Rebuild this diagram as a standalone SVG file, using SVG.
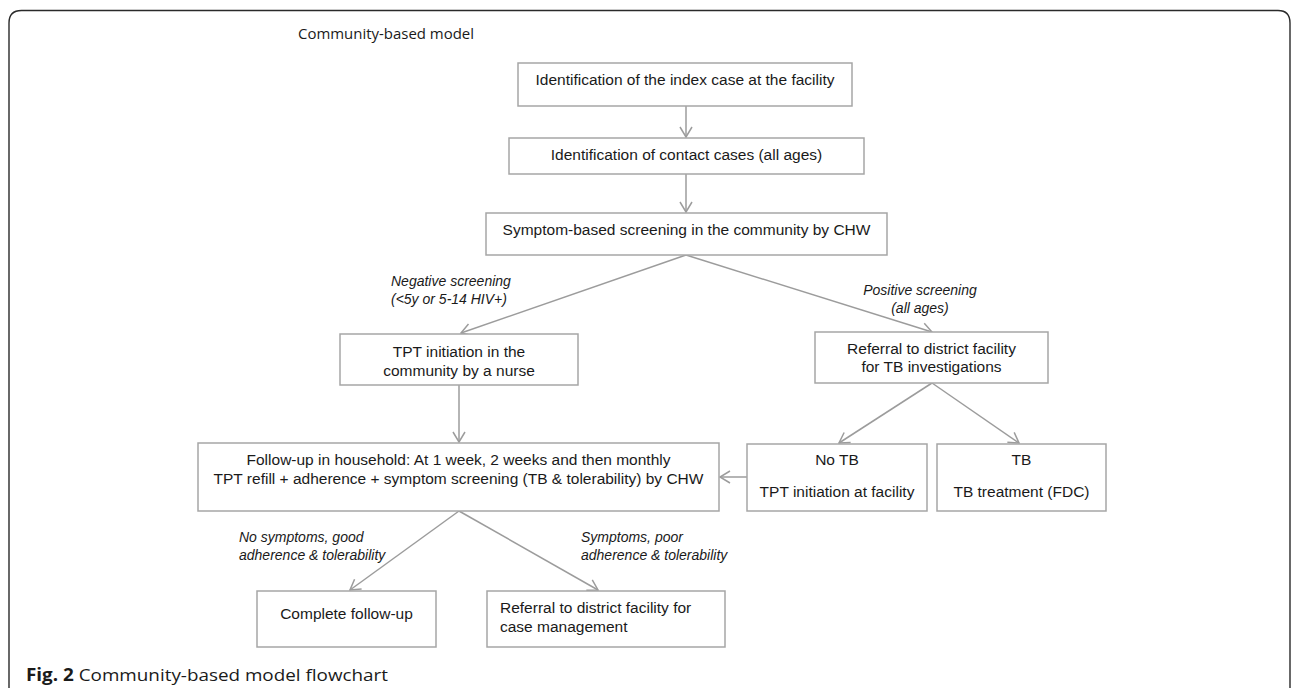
<svg xmlns="http://www.w3.org/2000/svg" width="1291" height="688" viewBox="0 0 1291 688">
<defs>
<marker id="arr" markerUnits="userSpaceOnUse" markerWidth="14" markerHeight="14" viewBox="0 0 14 14" refX="11" refY="7" orient="auto">
<path d="M1,1 L11,7 L1,13" fill="none" stroke="#9c9c9c" stroke-width="1.5"/>
</marker>
<style>
.box{fill:#fff;stroke:#a6a6a6;stroke-width:1.5}
.t{font-family:"Liberation Sans",Arial,sans-serif;font-size:15.5px;fill:#1a1a1a}
.c{text-anchor:middle}
.lab{font-family:"Liberation Sans",Arial,sans-serif;font-size:14px;font-style:italic;fill:#1a1a1a}
.con{fill:none;stroke:#9c9c9c;stroke-width:1.5;marker-end:url(#arr)}
</style>
</defs>
<rect width="1291" height="688" fill="#fff"/>
<path d="M9,688 L9,23 Q9,10.5 21.5,10.5 L1278,10.5 Q1290,10.5 1290,23 L1290,688" fill="none" stroke="#2a2a2a" stroke-width="1.4"/>
<text x="298" y="38.5" font-family="'Open Sans','Noto Sans',sans-serif" font-size="15" fill="#1a1a1a" textLength="176" lengthAdjust="spacingAndGlyphs">Community-based model</text>

<g id="connectors">
<line class="con" x1="686" y1="106" x2="686" y2="137"/>
<line class="con" x1="686" y1="174" x2="686" y2="212"/>
<line class="con" x1="686" y1="255" x2="461" y2="333"/>
<line class="con" x1="686" y1="255" x2="932" y2="332"/>
<line class="con" x1="459" y1="385" x2="459" y2="442"/>
<line class="con" x1="932" y1="383" x2="839" y2="443"/>
<line class="con" x1="932" y1="383" x2="1019" y2="443"/>
<line class="con" x1="747" y1="477" x2="720" y2="477"/>
<line class="con" x1="459" y1="511" x2="350" y2="590"/>
<line class="con" x1="459" y1="511" x2="598" y2="590"/>
<text class="lab" x="391" y="286">Negative screening</text>
<text class="lab" x="391" y="304">(&lt;5y or 5-14 HIV+)</text>
<text class="lab c" x="920" y="295">Positive screening</text>
<text class="lab c" x="920" y="313">(all ages)</text>
<text class="lab" x="239" y="542">No symptoms, good</text>
<text class="lab" x="239" y="560">adherence &amp; tolerability</text>
<text class="lab" x="581" y="542">Symptoms, poor</text>
<text class="lab" x="581" y="560">adherence &amp; tolerability</text>
</g>

<g id="n1"><rect class="box" x="518" y="63" width="334" height="43"/><text class="t c" x="685" y="84.5">Identification of the index case at the facility</text></g>
<g id="n2"><rect class="box" x="509" y="138" width="355" height="36"/><text class="t c" x="686.5" y="159.5">Identification of contact cases (all ages)</text></g>
<g id="n3"><rect class="box" x="486" y="213" width="401" height="42"/><text class="t c" x="686.5" y="234.5">Symptom-based screening in the community by CHW</text></g>
<g id="n4"><rect class="box" x="340" y="334" width="238" height="51"/><text class="t c" x="459" y="356.5">TPT initiation in the</text><text class="t c" x="459" y="375.5">community by a nurse</text></g>
<g id="n5"><rect class="box" x="815" y="332" width="233" height="51"/><text class="t c" x="931.5" y="353.5">Referral to district facility</text><text class="t c" x="931.5" y="371.5">for TB investigations</text></g>
<g id="n6"><rect class="box" x="198" y="443" width="521" height="68"/><text class="t c" x="458.5" y="464.5">Follow-up in household: At 1 week, 2 weeks and then monthly</text><text class="t c" x="458.5" y="483.5">TPT refill + adherence + symptom screening (TB &amp; tolerability) by CHW</text></g>
<g id="n7"><rect class="box" x="747" y="444" width="180" height="67"/><text class="t c" x="837" y="464.5">No TB</text><text class="t c" x="837" y="496.5">TPT initiation at facility</text></g>
<g id="n8"><rect class="box" x="937" y="444" width="169" height="67"/><text class="t c" x="1021.5" y="464.5">TB</text><text class="t c" x="1021.5" y="496.5">TB treatment (FDC)</text></g>
<g id="n9"><rect class="box" x="257" y="591" width="179" height="56"/><text class="t c" x="346.5" y="618.5">Complete follow-up</text></g>
<g id="n10"><rect class="box" x="487" y="591" width="238" height="56"/><text class="t" x="500" y="612.5">Referral to district facility for</text><text class="t" x="500" y="631.5">case management</text></g>

<text x="26" y="681" font-family="'Open Sans','Noto Sans',sans-serif" font-size="17" fill="#1a1a1a" textLength="362" lengthAdjust="spacingAndGlyphs"><tspan font-weight="bold">Fig. 2</tspan> Community-based model flowchart</text>
</svg>
